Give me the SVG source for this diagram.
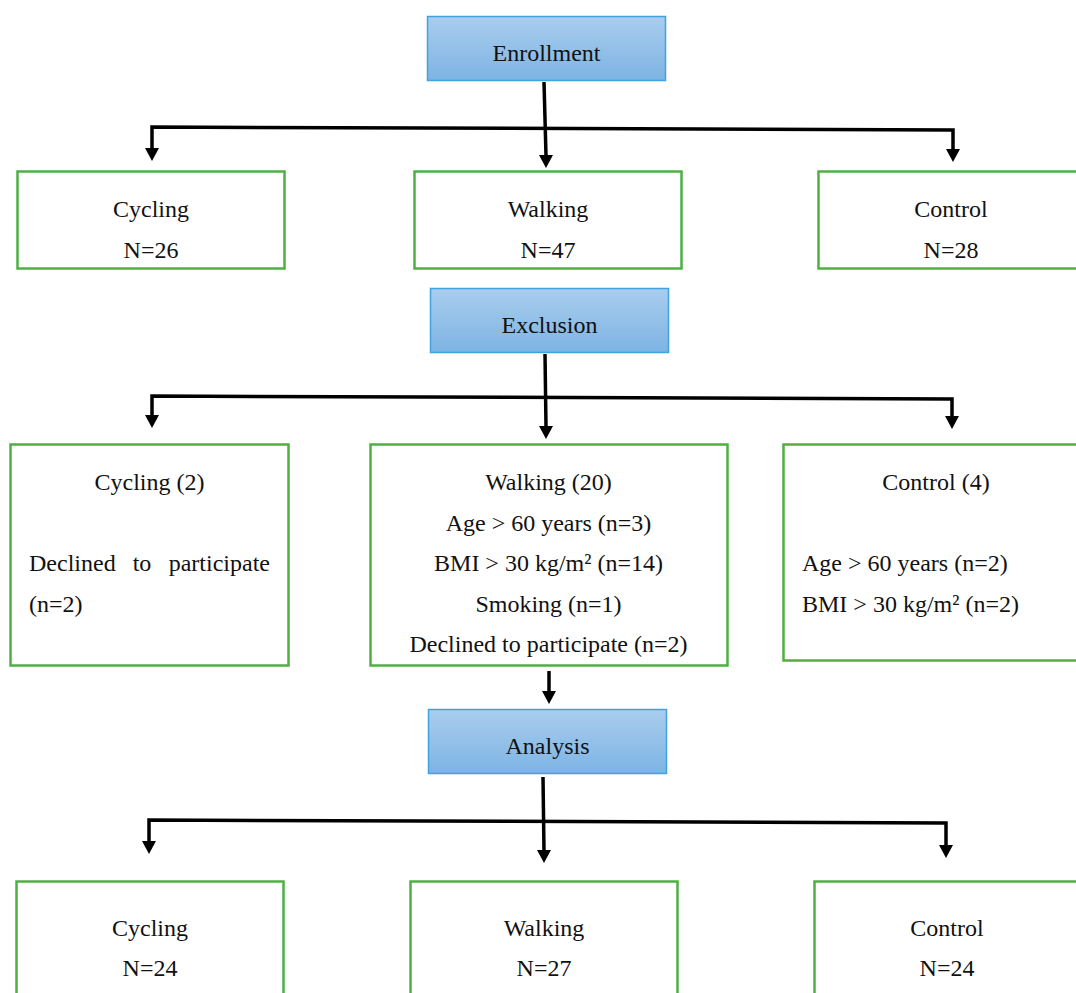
<svg xmlns="http://www.w3.org/2000/svg" width="1076" height="993" viewBox="0 0 1076 993">
  <defs>
    <linearGradient id="blueGrad" x1="0" y1="0" x2="0" y2="1">
      <stop offset="0" stop-color="#a9cdee"/>
      <stop offset="1" stop-color="#7db4e3"/>
    </linearGradient>
    <style>
      .head rect { fill: url(#blueGrad); stroke: #3ea3de; stroke-width: 1.5; }
      .box rect { fill: #fff; stroke: #4db141; stroke-width: 2.5; }
      text { font-family: "Liberation Serif", "Times New Roman", serif; font-size: 24px; fill: #111; }
      .c { text-anchor: middle; }
      .ln { fill: none; stroke: #000; stroke-width: 3.5; }
      .ah { fill: #000; }
    </style>
  </defs>
  <rect width="1076" height="993" fill="#fff"/>

  <g id="connectors">
    <!-- Enrollment branch -->
    <line class="ln" x1="544" y1="82" x2="546" y2="156"/>
    <path class="ah" d="M539,155 L553,155 L546,168 Z"/>
    <polyline class="ln" points="152,148 152,127 953,130 953,150"/>
    <path class="ah" d="M145,148 L159,148 L152,161 Z"/>
    <path class="ah" d="M946,149 L960,149 L953,162 Z"/>

    <!-- Exclusion branch -->
    <line class="ln" x1="545" y1="354" x2="546" y2="427"/>
    <path class="ah" d="M539,426 L553,426 L546,439 Z"/>
    <polyline class="ln" points="152,416 152,396 952,399 952,417"/>
    <path class="ah" d="M145,415 L159,415 L152,428 Z"/>
    <path class="ah" d="M945,416 L959,416 L952,429 Z"/>

    <!-- Walking exclusion to Analysis -->
    <line class="ln" x1="549" y1="671" x2="549" y2="693"/>
    <path class="ah" d="M542,691 L556,691 L549,704 Z"/>

    <!-- Analysis branch -->
    <line class="ln" x1="543" y1="777" x2="544" y2="851"/>
    <path class="ah" d="M537,850 L551,850 L544,863 Z"/>
    <polyline class="ln" points="149,842 149,820 946,823 946,846"/>
    <path class="ah" d="M142,841 L156,841 L149,854 Z"/>
    <path class="ah" d="M939,845 L953,845 L946,858 Z"/>
  </g>

  <g id="enrollment" class="head">
    <rect x="427.5" y="16.5" width="238" height="64"/>
    <text class="c" x="546.5" y="61">Enrollment</text>
  </g>

  <g id="cycling1" class="box">
    <rect x="17.5" y="171.5" width="267" height="97"/>
    <text class="c" x="151" y="217">Cycling</text>
    <text class="c" x="151" y="258">N=26</text>
  </g>
  <g id="walking1" class="box">
    <rect x="414.5" y="171.5" width="267" height="97"/>
    <text class="c" x="548" y="217">Walking</text>
    <text class="c" x="548" y="258">N=47</text>
  </g>
  <g id="control1" class="box">
    <rect x="818.5" y="171.5" width="270" height="97"/>
    <text class="c" x="951" y="217">Control</text>
    <text class="c" x="951" y="258">N=28</text>
  </g>

  <g id="exclusion" class="head">
    <rect x="430.5" y="288.5" width="238" height="64"/>
    <text class="c" x="549.5" y="333">Exclusion</text>
  </g>

  <g id="cycling2" class="box">
    <rect x="10.5" y="444.5" width="278" height="221"/>
    <text class="c" x="149.5" y="490">Cycling (2)</text>
    <text x="29" y="571">Declined</text>
    <text class="c" x="142" y="571">to</text>
    <text x="270" y="571" text-anchor="end">participate</text>
    <text x="29" y="611.5">(n=2)</text>
  </g>
  <g id="walking2" class="box">
    <rect x="370.5" y="444.5" width="357" height="221"/>
    <text class="c" x="548.5" y="490">Walking (20)</text>
    <text class="c" x="548.5" y="530.5">Age &gt; 60 years (n=3)</text>
    <text class="c" x="548.5" y="571">BMI &gt; 30 kg/m² (n=14)</text>
    <text class="c" x="548.5" y="611.5">Smoking (n=1)</text>
    <text class="c" x="548.5" y="652">Declined to participate (n=2)</text>
  </g>
  <g id="control2" class="box">
    <rect x="783.5" y="444.5" width="310" height="216"/>
    <text class="c" x="936" y="490">Control (4)</text>
    <text x="802" y="571">Age &gt; 60 years (n=2)</text>
    <text x="802" y="611.5">BMI &gt; 30 kg/m² (n=2)</text>
  </g>

  <g id="analysis" class="head">
    <rect x="428.5" y="709.5" width="238" height="64"/>
    <text class="c" x="547.5" y="754">Analysis</text>
  </g>

  <g id="cycling3" class="box">
    <rect x="16.5" y="881.5" width="267" height="130"/>
    <text class="c" x="150" y="936">Cycling</text>
    <text class="c" x="150" y="976">N=24</text>
  </g>
  <g id="walking3" class="box">
    <rect x="410.5" y="881.5" width="267" height="130"/>
    <text class="c" x="544" y="936">Walking</text>
    <text class="c" x="544" y="976">N=27</text>
  </g>
  <g id="control3" class="box">
    <rect x="814.5" y="881.5" width="275" height="130"/>
    <text class="c" x="947" y="936">Control</text>
    <text class="c" x="947" y="976">N=24</text>
  </g>
</svg>
